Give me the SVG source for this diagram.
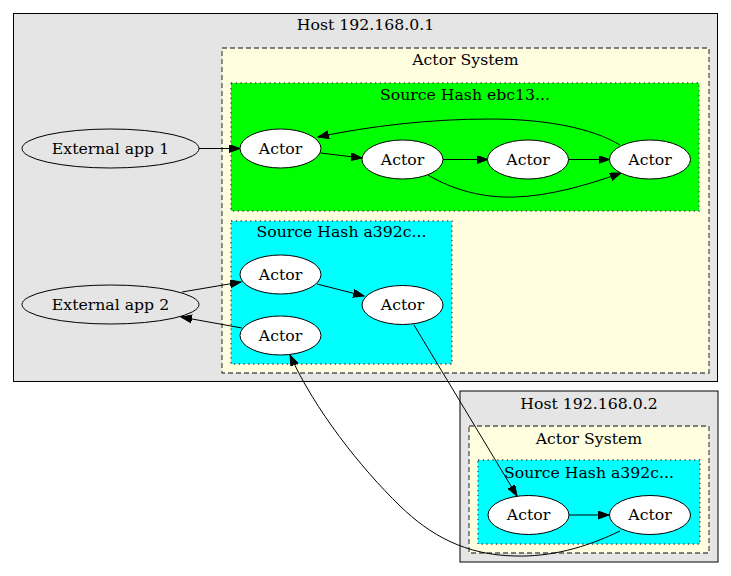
<svg xmlns="http://www.w3.org/2000/svg" width="731" height="576" viewBox="0 0 731 576">
<style>
text{font-family:"DejaVu Serif","Liberation Serif",serif;font-size:15.7px;fill:#000;text-anchor:middle}
.host{fill:#e5e5e5;stroke:#000;stroke-width:1}
.sys{fill:#ffffe0;stroke:#555;stroke-width:1.3;stroke-dasharray:5,3}
.green{fill:#00ff00;stroke:#444;stroke-width:1.3;stroke-dasharray:1.3,3.5}
.cyan{fill:#00ffff;stroke:#444;stroke-width:1.3;stroke-dasharray:1.3,3.5}
.actor{fill:#fff;stroke:#000;stroke-width:1}
.ext{fill:none;stroke:#000;stroke-width:1}
.edge{fill:none;stroke:#000;stroke-width:1;marker-end:url(#arr)}
</style>
<defs>
<marker id="arr" markerUnits="userSpaceOnUse" markerWidth="12" markerHeight="9" refX="11" refY="4" orient="auto">
<path d="M0,0 L11,4 L0,8 Z" fill="#000" stroke="#000" stroke-width="1"/>
</marker>
</defs>
<rect width="731" height="576" fill="#fff"/>
<g id="host1">
<rect class="host" x="13.5" y="13.5" width="704" height="368"/>
<text x="365.5" y="30">Host 192.168.0.1</text>
</g>
<g id="actorsystem1">
<rect class="sys" x="222" y="48" width="487" height="325"/>
<text x="465.5" y="65">Actor System</text>
</g>
<g id="hash_ebc13">
<rect class="green" x="231" y="83" width="468" height="128"/>
<text x="465" y="100">Source Hash ebc13...</text>
</g>
<g id="hash_a392c_1">
<rect class="cyan" x="231" y="221" width="221" height="143"/>
<text x="341.5" y="236.5">Source Hash a392c...</text>
</g>
<g id="host2">
<rect class="host" x="460" y="391" width="258" height="171"/>
<text x="589" y="408.5">Host 192.168.0.2</text>
</g>
<g id="actorsystem2">
<rect class="sys" x="469" y="426" width="240" height="127"/>
<text x="589" y="443.5">Actor System</text>
</g>
<g id="hash_a392c_2">
<rect class="cyan" x="478" y="460" width="222" height="84"/>
<text x="589" y="477.5">Source Hash a392c...</text>
</g>
<g id="connectors">
<path class="edge" d="M199,148.5 L240,148.5"/>
<path class="edge" d="M320.5,153 L362,158"/>
<path class="edge" d="M443,159.5 L488,159.5"/>
<path class="edge" d="M568.5,159.5 L609.5,159.5"/>
<path class="edge" d="M428,175 C455,191 485,198 515,197 C548,196 585,186 621,173"/>
<path class="edge" d="M620,145 C592,128 545,119 490,119 C430,119 370,126 318,137"/>
<path class="edge" d="M182,292 L241,282"/>
<path class="edge" d="M242,328 L181,317"/>
<path class="edge" d="M317,284 L364,296"/>
<path class="edge" d="M414,325 L517,496"/>
<path class="edge" d="M620,531 C585,548 550,557 515,556 C465,555 430,535 400,506 C360,467 315,410 290,355"/>
<path class="edge" d="M569,515 L609,515"/>
</g>
<g id="ext1">
<ellipse class="ext" cx="110.5" cy="148.5" rx="88.5" ry="19.5"/>
<text x="110.5" y="153.5">External app 1</text>
</g>
<g id="ext2">
<ellipse class="ext" cx="110.5" cy="304.5" rx="88.5" ry="19.5"/>
<text x="110.5" y="309.5">External app 2</text>
</g>
<g id="g_actor1">
<ellipse class="actor" cx="280.5" cy="148.5" rx="40.5" ry="19.5"/>
<text x="280.5" y="153.5">Actor</text>
</g>
<g id="g_actor2">
<ellipse class="actor" cx="402.5" cy="159.5" rx="40.5" ry="19.5"/>
<text x="402.5" y="164.5">Actor</text>
</g>
<g id="g_actor3">
<ellipse class="actor" cx="528" cy="159.5" rx="40.5" ry="19.5"/>
<text x="528" y="164.5">Actor</text>
</g>
<g id="g_actor4">
<ellipse class="actor" cx="650" cy="159.5" rx="40.5" ry="19.5"/>
<text x="650" y="164.5">Actor</text>
</g>
<g id="c_actor_top">
<ellipse class="actor" cx="280.5" cy="274.5" rx="40.5" ry="19.5"/>
<text x="280.5" y="279.5">Actor</text>
</g>
<g id="c_actor_bottom">
<ellipse class="actor" cx="280.5" cy="335.5" rx="40.5" ry="19.5"/>
<text x="280.5" y="340.5">Actor</text>
</g>
<g id="c_actor_right">
<ellipse class="actor" cx="402.5" cy="305" rx="40.5" ry="19.5"/>
<text x="402.5" y="310">Actor</text>
</g>
<g id="h2_actor_a">
<ellipse class="actor" cx="528.5" cy="515" rx="40.5" ry="19.5"/>
<text x="528.5" y="520">Actor</text>
</g>
<g id="h2_actor_b">
<ellipse class="actor" cx="650" cy="515" rx="40.5" ry="19.5"/>
<text x="650" y="520">Actor</text>
</g>
</svg>
